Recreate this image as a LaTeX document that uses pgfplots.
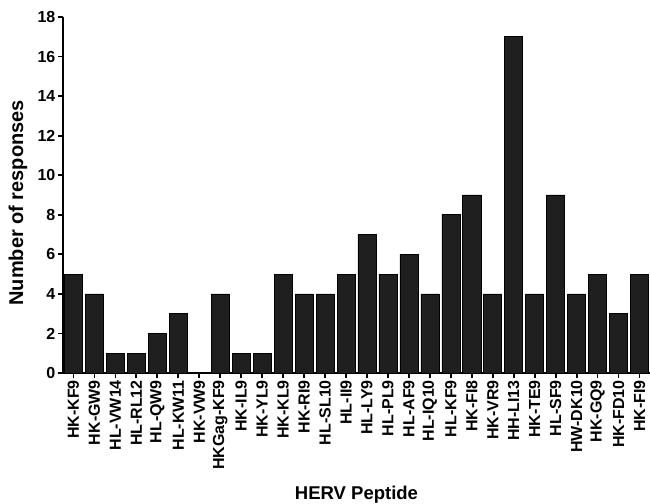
\documentclass[border=0pt]{standalone}
\usepackage{pgfplots}
\pgfplotsset{compat=1.18}
\usepackage{fontspec}
\setmainfont{Liberation Sans}
\begin{document}
\begin{tikzpicture}
\begin{axis}[
  scale only axis,
  at={(0,0)}, anchor=south west,
  width=587pt, height=356pt,
  ybar, bar width=0.86,
  xmin=-0.5, xmax=27.5,
  ymin=0, ymax=18,
  ytick={0,2,...,18},
  xtick=data,
  xticklabels={HK-KF9,HK-GW9,HL-VW14,HL-RL12,HL-QW9,HL-KW11,HK-VW9,HKGag-KF9,HK-IL9,HK-YL9,HK-KL9,HK-RI9,HL-SL10,HL-II9,HL-LY9,HL-PL9,HL-AF9,HL-IQ10,HL-KF9,HK-FI8,HK-VR9,HH-LI13,HK-TE9,HL-SF9,HW-DK10,HK-GQ9,HK-FD10,HK-FI9},
  x tick label style={rotate=90, anchor=east, font=\fontsize{16}{17}\selectfont\bfseries, inner sep=2pt},
  y tick label style={font=\fontsize{16}{17}\selectfont\bfseries, inner sep=2.5pt},
  /pgf/number format/assume math mode=true,
  axis x line*=bottom, axis y line*=left,
  axis line style={line width=1.8pt, -},
  tick style={line width=1.8pt, black},
  tick align=outside,
  major tick length=5pt,
  xlabel={HERV Peptide}, ylabel={Number of responses},
  xlabel style={font=\fontsize{18.5}{19}\selectfont\bfseries, at={(axis description cs:0.5,0)}, anchor=north, yshift=-113pt, inner sep=0pt},
  ylabel style={font=\fontsize{20}{21}\selectfont\bfseries, at={(axis description cs:0,0.478)}, anchor=center, yshift=45pt},
]
\addplot[fill=black!88, draw=black, line width=0.6pt] coordinates {
(0,5)(1,4)(2,1)(3,1)(4,2)(5,3)(6,0)(7,4)(8,1)(9,1)(10,5)(11,4)(12,4)(13,5)(14,7)(15,5)(16,6)(17,4)(18,8)(19,9)(20,4)(21,17)(22,4)(23,9)(24,4)(25,5)(26,3)(27,5)};
\end{axis}
\pgfresetboundingbox
\useasboundingbox (-63pt,-130pt) rectangle (587pt,373pt);
\end{tikzpicture}
\end{document}
